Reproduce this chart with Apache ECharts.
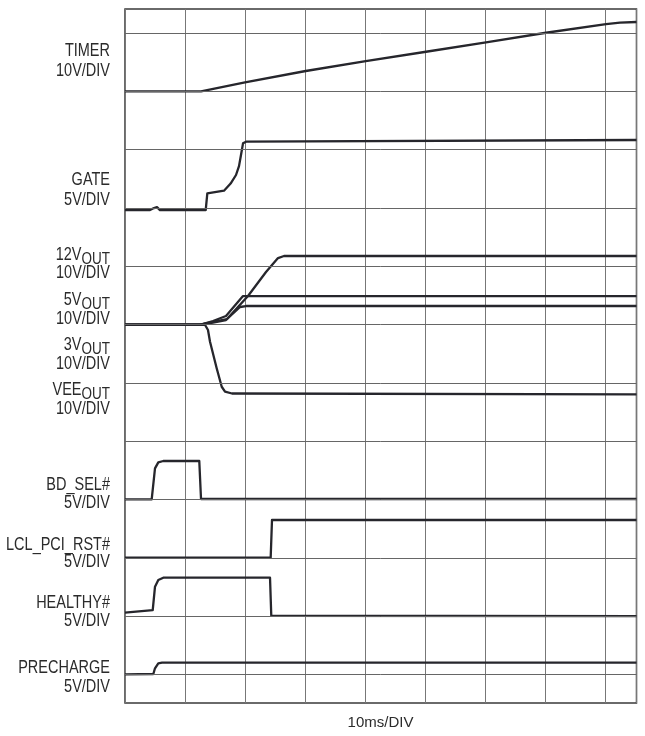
<!DOCTYPE html>
<html>
<head>
<meta charset="utf-8">
<script src="https://cdn.jsdelivr.net/npm/echarts@6/dist/echarts.min.js"></script>
<style>
html,body{margin:0;padding:0;background:#fff;}
#chart{width:645px;height:736px;}
</style>
</head>
<body>
<div id="chart"></div>
<script>
// ---- data: time in ms (10 ms/div), level in screen divisions (0 = lowest grid line) ----
const xTickMs = [0, 10, 20, 30, 40, 50, 60, 70, 80];
const yGridDivs = [0, 1, 2, 3, 4, 5, 6, 7, 8, 9, 10, 11];

const traceNames = ['TIMER', 'GATE', '12V_OUT', '5V_OUT', '3V_OUT', 'VEE_OUT', 'BD_SEL#', 'LCL_PCI_RST#', 'HEALTHY#', 'PRECHARGE'];
const scaleLabels = ['10V/DIV', '5V/DIV', '10V/DIV', '10V/DIV', '10V/DIV', '10V/DIV', '5V/DIV', '5V/DIV', '5V/DIV', '5V/DIV'];

const timer = [[0,10.0],[12.67,10.0],[20,10.156],[30.12,10.35],[40.12,10.52],[50.17,10.68],[60.17,10.84],[70.17,11.006],[80.17,11.155],[82.5,11.18],[85.25,11.19]];
const gate = [[0,7.966],[4.17,7.966],[4.83,8.0],[5.33,8.017],[5.83,7.966],[13.45,7.966],[13.72,8.253],[16.5,8.298],[17.6,8.42],[18.5,8.567],[19.0,8.72],[19.28,8.88],[19.67,9.11],[20.17,9.138],[85.25,9.167]];
const v12out = [[0,6.0],[12.5,6.0],[14.67,6.047],[17,6.098],[20.5,6.492],[23.5,6.903],[25.5,7.143],[26.5,7.178],[85.25,7.178]];
const v5out = [[0,6.0],[12.5,6.0],[14.67,6.064],[16.83,6.15],[19.67,6.492],[85.25,6.492]];
const v3out = [[0,6.0],[12.5,6.0],[14.67,6.038],[16.83,6.081],[19.17,6.304],[20.17,6.321],[85.25,6.321]];
const veeout = [[0,6.0],[13.33,6.0],[13.83,5.91],[14.17,5.709],[15.28,5.253],[16.12,4.937],[16.67,4.852],[17.83,4.821],[85.25,4.807]];
const bdSel = [[0,3.007],[4.45,3.007],[5,3.538],[5.55,3.641],[6.38,3.664],[12.38,3.664],[12.67,3.012],[85.25,3.012]];
const lclPciRst = [[0,2.006],[11.83,2.006],[12.05,2.035],[12.25,2.006],[24.28,2.006],[24.5,2.652],[85.25,2.652]];
const healthy = [[0,1.063],[4.62,1.109],[5,1.509],[5.55,1.623],[6.38,1.663],[24.17,1.663],[24.38,1.011],[85.25,1.006]];
const precharge = [[0,0.007],[4.72,0.012],[5,0.11],[5.55,0.195],[6.17,0.206],[85.25,0.206]];

const traces = [timer, gate, v12out, v5out, v3out, veeout, bdSel, lclPciRst, healthy, precharge];

// ---- font choice ----
const LFONT = "'Liberation Sans', Arial, sans-serif";
const LSIZE = 14.5;
const SSIZE = 13.5;
const STRETCH = 1.22;   // reference glyphs are tall and narrow
const TXT = '#2b2b2b';

// label layout (pixel centres of the name / scale lines)
const labelY = [[51, 71], [180, 200], [255, 273], [300, 319], [345, 364], [390, 409], [485, 503], [545, 562], [603, 621], [668, 687]];
const LABEL_X = 110;

function nameText(n){
  const i = n.indexOf('_OUT');
  if (i >= 0) return '{m|' + n.slice(0, i) + '}{s|OUT}';
  return '{m|' + n + '}';
}
const rich = {
  m: {fontSize: LSIZE, fontFamily: LFONT, fill: TXT, lineHeight: 21, verticalAlign: 'middle'},
  s: {fontSize: SSIZE, fontFamily: LFONT, fill: TXT, lineHeight: 12, verticalAlign: 'bottom'}
};

const graphics = [];
traceNames.forEach((n, i) => {
  graphics.push({type: 'text', x: LABEL_X, y: labelY[i][0], scaleY: STRETCH, silent: true,
    style: {text: nameText(n), rich: rich, align: 'right', verticalAlign: 'middle', fill: TXT, fontSize: LSIZE, fontFamily: LFONT}});
  graphics.push({type: 'text', x: LABEL_X, y: labelY[i][1], scaleY: STRETCH, silent: true,
    style: {text: scaleLabels[i], align: 'right', verticalAlign: 'middle', fill: TXT, fontSize: LSIZE, fontFamily: LFONT}});
});
graphics.push({type: 'text', x: 380.5, y: 723, silent: true,
  style: {text: '10ms/DIV', align: 'center', verticalAlign: 'middle', fill: TXT, fontSize: 15, fontFamily: LFONT}});

const chart = echarts.init(document.getElementById('chart'), null, {renderer: 'canvas'});
const series = [{
  type: 'line', data: [], z: 1, silent: true,
  markLine: {
    silent: true, symbol: ['none', 'none'], label: {show: false}, animation: false,
    lineStyle: {color: '#666', width: 1, type: 'solid'},
    emphasis: {disabled: true},
    data: yGridDivs.map(v => ({yAxis: v}))
  }
}];
traces.forEach((d, i) => {
  series.push({
    name: traceNames[i], type: 'line', data: d, z: 3, showSymbol: false, symbol: 'none',
    lineStyle: {color: '#26262c', width: 2.3, join: 'round'}, silent: true
  });
});

chart.setOption({
  animation: false,
  backgroundColor: '#fff',
  grid: {left: 125, right: 8.5, top: 9, bottom: 33, show: true, borderColor: '#3a3a3a', borderWidth: 1.5, backgroundColor: 'transparent'},
  xAxis: {type: 'value', min: 0, max: 85.25, interval: 10,
    axisLine: {show: false}, axisTick: {show: false}, axisLabel: {show: false},
    splitLine: {show: true, lineStyle: {color: '#777', width: 1}}},
  yAxis: {type: 'value', min: -0.485, max: 11.413,
    axisLine: {show: false}, axisTick: {show: false}, axisLabel: {show: false}, splitLine: {show: false}},
  series: series,
  graphic: graphics
});
</script>
</body>
</html>
